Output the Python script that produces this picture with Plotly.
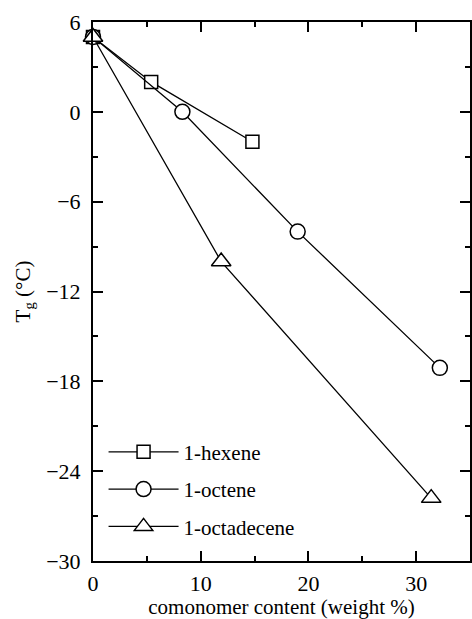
import plotly.graph_objects as go

hexene_x = [0, 5.4, 14.8]
hexene_y = [5, 2, -2]
octene_x = [0, 8.3, 19.0, 32.2]
octene_y = [5, 0, -8, -17.1]
octadecene_x = [0, 11.9, 31.4]
octadecene_y = [5, -10, -25.8]

FONT = "Liberation Serif"

fig = go.Figure()
series = [
    ("1-hexene", hexene_x, hexene_y, "square", 13),
    ("1-octene", octene_x, octene_y, "circle", 15),
    ("1-octadecene", octadecene_x, octadecene_y, "triangle-up", 17),
]
for i, (name, xs, ys, sym, sz) in enumerate(series):
    fig.add_trace(go.Scatter(
        x=xs, y=ys, name=name, mode="lines+markers",
        line=dict(color="black", width=1.3),
        marker=dict(symbol=sym, size=sz, color="white",
                    line=dict(color="black", width=1.5)),
        cliponaxis=False, legendgroup=name,
    ))

axis_common = dict(
    showgrid=False, zeroline=False, showline=True, linecolor="black",
    linewidth=2, ticks="inside", ticklen=10, tickwidth=1.5, tickcolor="black",
    mirror="ticks", tickfont=dict(family=FONT, size=22, color="black"),
)

fig.update_xaxes(range=[0, 35], tick0=0, dtick=10,
                 minor=dict(dtick=5, ticklen=5, ticks="inside", tickcolor="black", tickwidth=1.5),
                 title=dict(text="comonomer content (weight %)", font=dict(family=FONT, size=21, color="black"), standoff=1),
                 ticklabelstandoff=2,
                 **axis_common)
fig.update_yaxes(range=[-30, 6], tick0=0, dtick=6,
                 minor=dict(dtick=3, ticklen=5, ticks="inside", tickcolor="black", tickwidth=1.5),
                 title=dict(text="T<sub>g</sub> (°C)", font=dict(family=FONT, size=21, color="black"), standoff=10),
                 ticklabelstandoff=6,
                 **axis_common)

fig.update_layout(
    width=472, height=619,
    margin=dict(l=93, r=0, t=22, b=58),
    paper_bgcolor="white", plot_bgcolor="white",
    showlegend=True,
    legend=dict(x=0.028, y=0.24, xanchor="left", yanchor="top",
                font=dict(family=FONT, size=21, color="black"),
                bgcolor="rgba(0,0,0,0)", tracegroupgap=7, itemwidth=70),
    font=dict(family=FONT, color="black"),
)

fig.write_html("out.html")
